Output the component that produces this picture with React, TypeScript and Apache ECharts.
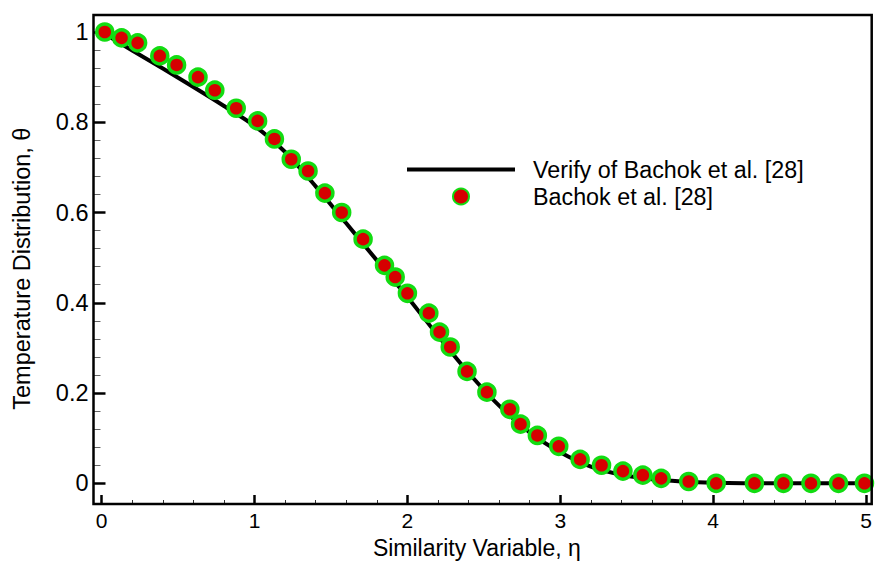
import React, { useEffect, useRef } from "react";
import * as echarts from "echarts";

// Curve: "Verify of Bachok et al. [28]"
const curveEta = [0, 0.2, 0.4, 0.6, 0.8, 1.0, 1.2, 1.4, 1.6, 1.8, 2.0, 2.2, 2.4, 2.6, 2.8, 3.0, 3.2, 3.4, 3.6, 3.8, 4.0, 4.2, 4.4, 4.6, 4.8, 5.0];
const curveTheta = [1.0, 0.959, 0.919, 0.878, 0.836, 0.792, 0.734, 0.658, 0.576, 0.494, 0.413, 0.327, 0.245, 0.172, 0.113, 0.069, 0.037, 0.019, 0.009, 0.004, 0.001, 0, 0, 0, 0, 0];

// Points: "Bachok et al. [28]"
const pointEta = [0.02, 0.13, 0.235, 0.38, 0.49, 0.63, 0.74, 0.88, 1.02, 1.13, 1.24, 1.35, 1.46, 1.57, 1.71, 1.85, 1.92, 2.0, 2.14, 2.21, 2.28, 2.39, 2.52, 2.67, 2.74, 2.85, 2.99, 3.13, 3.27, 3.41, 3.54, 3.66, 3.84, 4.02, 4.27, 4.46, 4.64, 4.82, 4.99];
const pointTheta = [1.0, 0.987, 0.976, 0.947, 0.927, 0.9, 0.871, 0.831, 0.803, 0.763, 0.718, 0.692, 0.643, 0.6, 0.541, 0.483, 0.457, 0.421, 0.377, 0.335, 0.302, 0.248, 0.202, 0.164, 0.131, 0.106, 0.082, 0.053, 0.04, 0.027, 0.018, 0.011, 0.004, 0.0, 0.0, 0.0, 0.0, 0.0, 0.0];

const xTicks = [0, 1, 2, 3, 4, 5];
const yTicks = [0, 0.2, 0.4, 0.6, 0.8, 1];

const lineName = "Verify of Bachok et al. [28]";
const pointName = "Bachok et al. [28]";

const FONT = "'Liberation Sans', Arial, sans-serif";

export default function App() {
  const ref = useRef<HTMLDivElement>(null);
  useEffect(() => {
    if (!ref.current) return;
    const chart = echarts.init(ref.current, undefined, { renderer: "svg" });
    const curve = curveEta.map((x, i) => [x, curveTheta[i]]);
    const pts = pointEta.map((x, i) => [x, pointTheta[i]]);
    chart.setOption({
      animation: false,
      backgroundColor: "#fff",
      textStyle: { fontFamily: FONT },
      grid: [
        { left: 101.7, right: 18, top: 32, bottom: 80.7, containLabel: false, outerBoundsMode: "none" },
        { left: 93.5, right: 12.3, top: 15, bottom: 60, containLabel: false, outerBoundsMode: "none", show: true, borderColor: "#000", borderWidth: 2.5, backgroundColor: "transparent", z: 10 },
      ],
      xAxis: [
        {
          type: "value",
          gridIndex: 0,
          min: xTicks[0],
          max: xTicks[xTicks.length - 1],
          interval: 1,
          offset: 20.7,
          name: "Similarity Variable, η",
          nameLocation: "middle",
          nameMoveOverlap: false,
          nameGap: 32,
          nameTextStyle: { fontSize: 23, color: "#000", fontFamily: FONT, padding: [0, 14, 0, 0] },
          axisLine: { show: false, onZero: false },
          axisTick: { show: true, inside: true, length: 9, lineStyle: { color: "#000", width: 2.5 } },
          minorTick: { show: true, splitNumber: 5, length: 4, lineStyle: { color: "#333", width: 1 } },
          axisLabel: { fontSize: 21, color: "#000", margin: 6, fontFamily: FONT },
          splitLine: { show: false },
        },
        { type: "value", gridIndex: 1, show: false, min: 0, max: 1 },
      ],
      yAxis: [
        {
          type: "value",
          gridIndex: 0,
          min: yTicks[0],
          max: yTicks[yTicks.length - 1],
          interval: 0.2,
          offset: 8.2,
          name: "Temperature Distribution, θ",
          nameLocation: "middle",
          nameMoveOverlap: false,
          nameGap: 60,
          nameTextStyle: { fontSize: 23.5, color: "#000", fontFamily: FONT, padding: [0, 22, 0, 0] },
          axisLine: { show: false, onZero: false },
          axisTick: { show: true, inside: true, length: 12, lineStyle: { color: "#000", width: 2.5 } },
          minorTick: { show: true, splitNumber: 5, length: 7, lineStyle: { color: "#666", width: 1 } },
          axisLabel: { fontSize: 23.5, color: "#000", margin: 5, fontFamily: FONT },
          splitLine: { show: false },
        },
        { type: "value", gridIndex: 1, show: false, min: 0, max: 1 },
      ],
      legend: {
        orient: "vertical",
        left: 407,
        top: 158,
        padding: 0,
        itemWidth: 108,
        itemHeight: 16,
        itemGap: 4,
        textStyle: { fontSize: 23.3, color: "#000", fontFamily: FONT, padding: [0, 0, 0, 13] },
        data: [
          { name: lineName, icon: "path://M0 0H108V4H0Z", itemStyle: { color: "#000", borderWidth: 0 } },
          { name: pointName },
        ],
      },
      series: [
        {
          name: lineName,
          type: "line",
          xAxisIndex: 0,
          yAxisIndex: 0,
          data: curve,
          smooth: 0.3,
          symbol: "none",
          showSymbol: false,
          clip: false,
          lineStyle: { color: "#000", width: 4 },
          itemStyle: { color: "#000" },
          z: 2,
        },
        {
          name: pointName,
          type: "scatter",
          xAxisIndex: 0,
          yAxisIndex: 0,
          data: pts,
          symbol: "circle",
          symbolSize: 16,
          clip: false,
          itemStyle: { color: "#d60000", borderColor: "#12dc12", borderWidth: 3.5, opacity: 1 },
          z: 3,
        },
      ],
    });
    return () => chart.dispose();
  }, []);
  return <div ref={ref} style={{ width: 884, height: 564, position: "absolute", left: 0, top: 0 }} />;
}
